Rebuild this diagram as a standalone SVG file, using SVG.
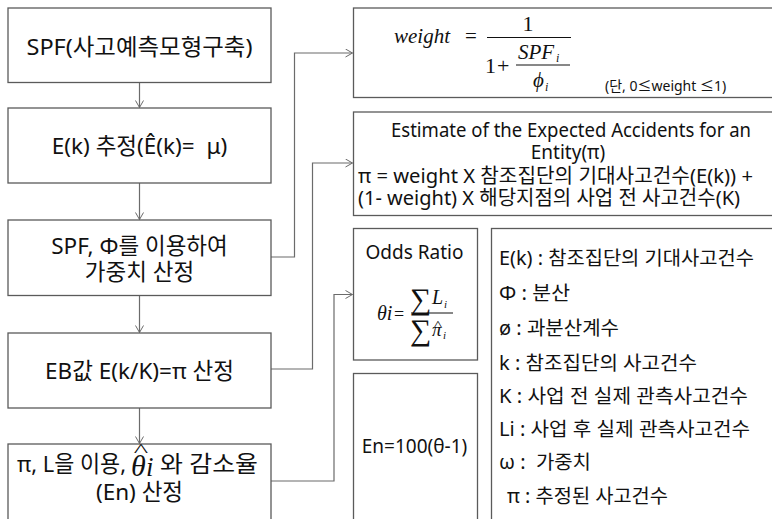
<svg xmlns="http://www.w3.org/2000/svg" width="772" height="519" viewBox="0 0 772 519">
<defs>
<marker id="ah" markerWidth="10" markerHeight="10" refX="7.5" refY="4.5" orient="auto" markerUnits="userSpaceOnUse">
<path d="M0.5,0.5 L7.5,4.5 L0.5,8.5" fill="none" stroke="#6b6b6b" stroke-width="1"/>
</marker>
<style>
.box{fill:#fff;stroke:#5a5a5a;stroke-width:1.3}
.con{fill:none;stroke:#6b6b6b;stroke-width:1.2;marker-end:url(#ah)}
.t{font-family:"Noto Sans","Noto Sans CJK KR",sans-serif;fill:#111}
.L{font-size:22.5px}
.R{font-size:19px}
.G{font-size:19.5px}
.c{text-anchor:middle}
.m{font-family:"Liberation Serif",serif;font-style:italic;fill:#111}
.r{font-family:"Liberation Serif",serif;fill:#111}
.bar{stroke:#111;stroke-width:1}
</style>
</defs>
<rect width="772" height="519" fill="#fff"/>

<g id="connectors">
<path class="con" d="M139.5,82.5 V107.5"/>
<path class="con" d="M139.5,183 V219.5"/>
<path class="con" d="M139.5,295.5 V332.5"/>
<path class="con" d="M139.5,408 V443.5"/>
<path class="con" d="M271,257 H294.5 V53 H352.5"/>
<path class="con" d="M271,369 H312.5 V163 H352.5"/>
<path class="con" d="M271,481 H334 V294.5 H352.5"/>
</g>

<g id="n1">
<rect class="box" x="8" y="8" width="263" height="74.5"/>
<text class="t L c" x="139.5" y="55" textLength="226" lengthAdjust="spacingAndGlyphs">SPF(사고예측모형구축)</text>
</g>
<g id="n2">
<rect class="box" x="8" y="108" width="263" height="75"/>
<text class="t L c" x="139.5" y="154" xml:space="preserve">E(k) 추정(Ê(k)=  μ)</text>
</g>
<g id="n3">
<rect class="box" x="8" y="220" width="263" height="75.5"/>
<text class="t L c" x="139.5" y="254">SPF, Φ를 이용하여</text>
<text class="t L c" x="139.5" y="280">가중치 산정</text>
</g>
<g id="n4">
<rect class="box" x="8" y="333" width="263" height="75"/>
<text class="t L c" x="139.5" y="379">EB값 E(k/K)=π 산정</text>
</g>
<g id="n5">
<rect class="box" x="8" y="444" width="263" height="90"/>
<text class="t L" x="17" y="472" textLength="109" lengthAdjust="spacingAndGlyphs">π, L을 이용,</text>
<text class="m" x="131" y="476" font-size="30">θ</text>
<text class="m" x="146" y="476" font-size="27">i</text>
<text class="r" font-size="18" text-anchor="middle" transform="translate(141,457) scale(1.7,1)">^</text>
<text class="t L" x="160" y="472" textLength="98" lengthAdjust="spacingAndGlyphs">와 감소율</text>
<text class="t L c" x="139.5" y="500">(En) 산정</text>
</g>

<g id="n6">
<rect class="box" x="353.5" y="8" width="440" height="89.5"/>
<text class="m" x="394" y="43" font-size="21">weight</text>
<text class="r" x="465" y="43" font-size="21">=</text>
<text class="r" x="528" y="31" font-size="22" text-anchor="middle">1</text>
<line class="bar" x1="487" y1="37.5" x2="571" y2="37.5"/>
<text class="r" x="485" y="73" font-size="22">1</text>
<text class="r" x="497" y="73" font-size="22">+</text>
<line class="bar" x1="516" y1="65" x2="570" y2="65"/>
<text class="m" x="518" y="59" font-size="21">SPF</text>
<text class="m" x="556" y="62" font-size="12">i</text>
<text class="m" x="533" y="87" font-size="21">ϕ</text>
<text class="m" x="545" y="91" font-size="12">i</text>
<text class="t" x="605" y="91" font-size="14">(단, 0≤weight ≤1)</text>
</g>

<g id="n7">
<rect class="box" x="353.5" y="112" width="440" height="103.5"/>
<text class="t R c" x="571" y="137" textLength="360" lengthAdjust="spacingAndGlyphs">Estimate of the Expected Accidents for an</text>
<text class="t R c" x="568" y="159">Entity(π)</text>
<text class="t" x="358" y="183" font-size="20" textLength="395" lengthAdjust="spacingAndGlyphs">π = weight X 참조집단의 기대사고건수(E(k)) +</text>
<text class="t" x="358" y="205" font-size="20">(1- weight) X 해당지점의 사업 전 사고건수(K)</text>
</g>

<g id="n8">
<rect class="box" x="353.5" y="228.5" width="124" height="131.5"/>
<text class="t R c" x="414.5" y="259">Odds Ratio</text>
<text class="m" x="377" y="320" font-size="20">θi</text>
<text class="r" x="394" y="320" font-size="18">=</text>
<line class="bar" x1="411" y1="313" x2="453" y2="313"/>
<text class="r" x="410" y="309" font-size="30">∑</text>
<text class="m" x="432" y="304" font-size="20">L</text>
<text class="m" x="444" y="308" font-size="11">i</text>
<text class="r" x="410" y="340" font-size="30">∑</text>
<text class="m" x="432" y="336" font-size="19">π</text>
<text class="r" font-size="12" text-anchor="middle" transform="translate(438,328.5) scale(1.4,1)">^</text>
<text class="m" x="443" y="339" font-size="11">i</text>
</g>

<g id="n9">
<rect class="box" x="353.5" y="373.5" width="124" height="160"/>
<text class="t R c" x="414.5" y="453">En=100(θ-1)</text>
</g>

<g id="n10">
<rect class="box" x="491.5" y="228.5" width="300" height="305"/>
<text class="t G" x="499" y="265" textLength="255" lengthAdjust="spacingAndGlyphs">E(k) : 참조집단의 기대사고건수</text>
<text class="t G" x="499" y="300" textLength="71" lengthAdjust="spacingAndGlyphs">Φ : 분산</text>
<text class="t G" x="499" y="335" textLength="120" lengthAdjust="spacingAndGlyphs">ø : 과분산계수</text>
<text class="t G" x="499" y="370" textLength="198" lengthAdjust="spacingAndGlyphs">k : 참조집단의 사고건수</text>
<text class="t G" x="499" y="403" textLength="249" lengthAdjust="spacingAndGlyphs">K : 사업 전 실제 관측사고건수</text>
<text class="t G" x="499" y="436" textLength="251" lengthAdjust="spacingAndGlyphs">Li : 사업 후 실제 관측사고건수</text>
<text class="t G" x="499" y="469" xml:space="preserve" textLength="92" lengthAdjust="spacingAndGlyphs">ω :  가중치</text>
<text class="t G" x="507" y="503" textLength="161" lengthAdjust="spacingAndGlyphs">π : 추정된 사고건수</text>
</g>
</svg>
